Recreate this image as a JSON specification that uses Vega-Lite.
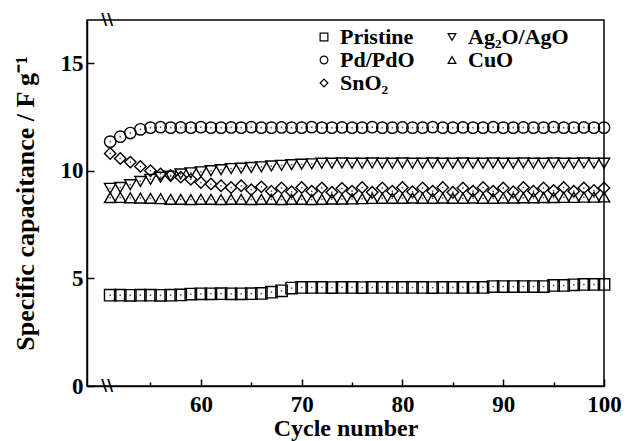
{
  "$schema": "https://vega.github.io/schema/vega-lite/v6.json",
  "width": 517,
  "height": 366,
  "autosize": {"type": "none"},
  "padding": {"left": 87, "top": 20, "right": 22, "bottom": 55},
  "background": "white",
  "config": {
    "font": "Liberation Serif",
    "view": {"stroke": "black", "strokeWidth": 1.5},
    "axis": {
      "grid": false,
      "domainColor": "black",
      "domainWidth": 1.5,
      "tickColor": "black",
      "tickWidth": 1.5,
      "labelColor": "black",
      "labelFont": "Liberation Serif",
      "labelFontSize": 23,
      "labelFontWeight": "bold",
      "titleColor": "black",
      "titleFont": "Liberation Serif",
      "titleFontSize": 24,
      "titleFontWeight": "bold"
    }
  },
  "datasets": {
    "cap": [
      {"cycle": 51, "sample": "Pristine", "capacitance": 4.22},
      {"cycle": 52, "sample": "Pristine", "capacitance": 4.22},
      {"cycle": 53, "sample": "Pristine", "capacitance": 4.21},
      {"cycle": 54, "sample": "Pristine", "capacitance": 4.22},
      {"cycle": 55, "sample": "Pristine", "capacitance": 4.22},
      {"cycle": 56, "sample": "Pristine", "capacitance": 4.21},
      {"cycle": 57, "sample": "Pristine", "capacitance": 4.22},
      {"cycle": 58, "sample": "Pristine", "capacitance": 4.23},
      {"cycle": 59, "sample": "Pristine", "capacitance": 4.27},
      {"cycle": 60, "sample": "Pristine", "capacitance": 4.28},
      {"cycle": 61, "sample": "Pristine", "capacitance": 4.28},
      {"cycle": 62, "sample": "Pristine", "capacitance": 4.29},
      {"cycle": 63, "sample": "Pristine", "capacitance": 4.28},
      {"cycle": 64, "sample": "Pristine", "capacitance": 4.28},
      {"cycle": 65, "sample": "Pristine", "capacitance": 4.29},
      {"cycle": 66, "sample": "Pristine", "capacitance": 4.3},
      {"cycle": 67, "sample": "Pristine", "capacitance": 4.36},
      {"cycle": 68, "sample": "Pristine", "capacitance": 4.42},
      {"cycle": 69, "sample": "Pristine", "capacitance": 4.55},
      {"cycle": 70, "sample": "Pristine", "capacitance": 4.58},
      {"cycle": 71, "sample": "Pristine", "capacitance": 4.58},
      {"cycle": 72, "sample": "Pristine", "capacitance": 4.58},
      {"cycle": 73, "sample": "Pristine", "capacitance": 4.57},
      {"cycle": 74, "sample": "Pristine", "capacitance": 4.58},
      {"cycle": 75, "sample": "Pristine", "capacitance": 4.58},
      {"cycle": 76, "sample": "Pristine", "capacitance": 4.57},
      {"cycle": 77, "sample": "Pristine", "capacitance": 4.58},
      {"cycle": 78, "sample": "Pristine", "capacitance": 4.58},
      {"cycle": 79, "sample": "Pristine", "capacitance": 4.58},
      {"cycle": 80, "sample": "Pristine", "capacitance": 4.58},
      {"cycle": 81, "sample": "Pristine", "capacitance": 4.58},
      {"cycle": 82, "sample": "Pristine", "capacitance": 4.58},
      {"cycle": 83, "sample": "Pristine", "capacitance": 4.57},
      {"cycle": 84, "sample": "Pristine", "capacitance": 4.58},
      {"cycle": 85, "sample": "Pristine", "capacitance": 4.58},
      {"cycle": 86, "sample": "Pristine", "capacitance": 4.58},
      {"cycle": 87, "sample": "Pristine", "capacitance": 4.58},
      {"cycle": 88, "sample": "Pristine", "capacitance": 4.58},
      {"cycle": 89, "sample": "Pristine", "capacitance": 4.62},
      {"cycle": 90, "sample": "Pristine", "capacitance": 4.62},
      {"cycle": 91, "sample": "Pristine", "capacitance": 4.62},
      {"cycle": 92, "sample": "Pristine", "capacitance": 4.62},
      {"cycle": 93, "sample": "Pristine", "capacitance": 4.62},
      {"cycle": 94, "sample": "Pristine", "capacitance": 4.62},
      {"cycle": 95, "sample": "Pristine", "capacitance": 4.67},
      {"cycle": 96, "sample": "Pristine", "capacitance": 4.67},
      {"cycle": 97, "sample": "Pristine", "capacitance": 4.7},
      {"cycle": 98, "sample": "Pristine", "capacitance": 4.72},
      {"cycle": 99, "sample": "Pristine", "capacitance": 4.72},
      {"cycle": 100, "sample": "Pristine", "capacitance": 4.72},
      {"cycle": 51, "sample": "Pd/PdO", "capacitance": 11.35},
      {"cycle": 52, "sample": "Pd/PdO", "capacitance": 11.58},
      {"cycle": 53, "sample": "Pd/PdO", "capacitance": 11.75},
      {"cycle": 54, "sample": "Pd/PdO", "capacitance": 11.92},
      {"cycle": 55, "sample": "Pd/PdO", "capacitance": 12.0},
      {"cycle": 56, "sample": "Pd/PdO", "capacitance": 12.02},
      {"cycle": 57, "sample": "Pd/PdO", "capacitance": 12.0},
      {"cycle": 58, "sample": "Pd/PdO", "capacitance": 12.01},
      {"cycle": 59, "sample": "Pd/PdO", "capacitance": 12.0},
      {"cycle": 60, "sample": "Pd/PdO", "capacitance": 12.02},
      {"cycle": 61, "sample": "Pd/PdO", "capacitance": 12.0},
      {"cycle": 62, "sample": "Pd/PdO", "capacitance": 12.0},
      {"cycle": 63, "sample": "Pd/PdO", "capacitance": 12.01},
      {"cycle": 64, "sample": "Pd/PdO", "capacitance": 12.0},
      {"cycle": 65, "sample": "Pd/PdO", "capacitance": 12.02},
      {"cycle": 66, "sample": "Pd/PdO", "capacitance": 12.0},
      {"cycle": 67, "sample": "Pd/PdO", "capacitance": 12.0},
      {"cycle": 68, "sample": "Pd/PdO", "capacitance": 12.01},
      {"cycle": 69, "sample": "Pd/PdO", "capacitance": 12.0},
      {"cycle": 70, "sample": "Pd/PdO", "capacitance": 12.0},
      {"cycle": 71, "sample": "Pd/PdO", "capacitance": 12.02},
      {"cycle": 72, "sample": "Pd/PdO", "capacitance": 12.0},
      {"cycle": 73, "sample": "Pd/PdO", "capacitance": 12.0},
      {"cycle": 74, "sample": "Pd/PdO", "capacitance": 12.01},
      {"cycle": 75, "sample": "Pd/PdO", "capacitance": 12.0},
      {"cycle": 76, "sample": "Pd/PdO", "capacitance": 12.0},
      {"cycle": 77, "sample": "Pd/PdO", "capacitance": 12.02},
      {"cycle": 78, "sample": "Pd/PdO", "capacitance": 12.0},
      {"cycle": 79, "sample": "Pd/PdO", "capacitance": 12.0},
      {"cycle": 80, "sample": "Pd/PdO", "capacitance": 12.01},
      {"cycle": 81, "sample": "Pd/PdO", "capacitance": 12.0},
      {"cycle": 82, "sample": "Pd/PdO", "capacitance": 12.0},
      {"cycle": 83, "sample": "Pd/PdO", "capacitance": 12.02},
      {"cycle": 84, "sample": "Pd/PdO", "capacitance": 12.0},
      {"cycle": 85, "sample": "Pd/PdO", "capacitance": 12.0},
      {"cycle": 86, "sample": "Pd/PdO", "capacitance": 12.01},
      {"cycle": 87, "sample": "Pd/PdO", "capacitance": 12.0},
      {"cycle": 88, "sample": "Pd/PdO", "capacitance": 12.0},
      {"cycle": 89, "sample": "Pd/PdO", "capacitance": 12.02},
      {"cycle": 90, "sample": "Pd/PdO", "capacitance": 12.0},
      {"cycle": 91, "sample": "Pd/PdO", "capacitance": 12.0},
      {"cycle": 92, "sample": "Pd/PdO", "capacitance": 12.01},
      {"cycle": 93, "sample": "Pd/PdO", "capacitance": 12.0},
      {"cycle": 94, "sample": "Pd/PdO", "capacitance": 12.0},
      {"cycle": 95, "sample": "Pd/PdO", "capacitance": 12.02},
      {"cycle": 96, "sample": "Pd/PdO", "capacitance": 12.0},
      {"cycle": 97, "sample": "Pd/PdO", "capacitance": 12.0},
      {"cycle": 98, "sample": "Pd/PdO", "capacitance": 12.01},
      {"cycle": 99, "sample": "Pd/PdO", "capacitance": 12.0},
      {"cycle": 100, "sample": "Pd/PdO", "capacitance": 12.0},
      {"cycle": 51, "sample": "SnO₂", "capacitance": 10.8},
      {"cycle": 52, "sample": "SnO₂", "capacitance": 10.57},
      {"cycle": 53, "sample": "SnO₂", "capacitance": 10.4},
      {"cycle": 54, "sample": "SnO₂", "capacitance": 10.2},
      {"cycle": 55, "sample": "SnO₂", "capacitance": 10.0},
      {"cycle": 56, "sample": "SnO₂", "capacitance": 9.85},
      {"cycle": 57, "sample": "SnO₂", "capacitance": 9.78},
      {"cycle": 58, "sample": "SnO₂", "capacitance": 9.7},
      {"cycle": 59, "sample": "SnO₂", "capacitance": 9.6},
      {"cycle": 60, "sample": "SnO₂", "capacitance": 9.45},
      {"cycle": 61, "sample": "SnO₂", "capacitance": 9.38},
      {"cycle": 62, "sample": "SnO₂", "capacitance": 9.3},
      {"cycle": 63, "sample": "SnO₂", "capacitance": 9.22},
      {"cycle": 64, "sample": "SnO₂", "capacitance": 9.3},
      {"cycle": 65, "sample": "SnO₂", "capacitance": 9.12},
      {"cycle": 66, "sample": "SnO₂", "capacitance": 9.25},
      {"cycle": 67, "sample": "SnO₂", "capacitance": 9.05},
      {"cycle": 68, "sample": "SnO₂", "capacitance": 9.2},
      {"cycle": 69, "sample": "SnO₂", "capacitance": 9.02},
      {"cycle": 70, "sample": "SnO₂", "capacitance": 9.22},
      {"cycle": 71, "sample": "SnO₂", "capacitance": 9.05},
      {"cycle": 72, "sample": "SnO₂", "capacitance": 9.2},
      {"cycle": 73, "sample": "SnO₂", "capacitance": 9.0},
      {"cycle": 74, "sample": "SnO₂", "capacitance": 9.18},
      {"cycle": 75, "sample": "SnO₂", "capacitance": 9.05},
      {"cycle": 76, "sample": "SnO₂", "capacitance": 9.22},
      {"cycle": 77, "sample": "SnO₂", "capacitance": 9.0},
      {"cycle": 78, "sample": "SnO₂", "capacitance": 9.2},
      {"cycle": 79, "sample": "SnO₂", "capacitance": 9.05},
      {"cycle": 80, "sample": "SnO₂", "capacitance": 9.22},
      {"cycle": 81, "sample": "SnO₂", "capacitance": 9.02},
      {"cycle": 82, "sample": "SnO₂", "capacitance": 9.2},
      {"cycle": 83, "sample": "SnO₂", "capacitance": 9.05},
      {"cycle": 84, "sample": "SnO₂", "capacitance": 9.22},
      {"cycle": 85, "sample": "SnO₂", "capacitance": 9.0},
      {"cycle": 86, "sample": "SnO₂", "capacitance": 9.2},
      {"cycle": 87, "sample": "SnO₂", "capacitance": 9.05},
      {"cycle": 88, "sample": "SnO₂", "capacitance": 9.22},
      {"cycle": 89, "sample": "SnO₂", "capacitance": 9.05},
      {"cycle": 90, "sample": "SnO₂", "capacitance": 9.2},
      {"cycle": 91, "sample": "SnO₂", "capacitance": 9.02},
      {"cycle": 92, "sample": "SnO₂", "capacitance": 9.22},
      {"cycle": 93, "sample": "SnO₂", "capacitance": 9.05},
      {"cycle": 94, "sample": "SnO₂", "capacitance": 9.2},
      {"cycle": 95, "sample": "SnO₂", "capacitance": 9.08},
      {"cycle": 96, "sample": "SnO₂", "capacitance": 9.22},
      {"cycle": 97, "sample": "SnO₂", "capacitance": 9.05},
      {"cycle": 98, "sample": "SnO₂", "capacitance": 9.2},
      {"cycle": 99, "sample": "SnO₂", "capacitance": 9.08},
      {"cycle": 100, "sample": "SnO₂", "capacitance": 9.2},
      {"cycle": 51, "sample": "Ag₂O/AgO", "capacitance": 9.18},
      {"cycle": 52, "sample": "Ag₂O/AgO", "capacitance": 9.22},
      {"cycle": 53, "sample": "Ag₂O/AgO", "capacitance": 9.35},
      {"cycle": 54, "sample": "Ag₂O/AgO", "capacitance": 9.5},
      {"cycle": 55, "sample": "Ag₂O/AgO", "capacitance": 9.6},
      {"cycle": 56, "sample": "Ag₂O/AgO", "capacitance": 9.7},
      {"cycle": 57, "sample": "Ag₂O/AgO", "capacitance": 9.75},
      {"cycle": 58, "sample": "Ag₂O/AgO", "capacitance": 9.85},
      {"cycle": 59, "sample": "Ag₂O/AgO", "capacitance": 9.9},
      {"cycle": 60, "sample": "Ag₂O/AgO", "capacitance": 9.95},
      {"cycle": 61, "sample": "Ag₂O/AgO", "capacitance": 10.0},
      {"cycle": 62, "sample": "Ag₂O/AgO", "capacitance": 10.05},
      {"cycle": 63, "sample": "Ag₂O/AgO", "capacitance": 10.1},
      {"cycle": 64, "sample": "Ag₂O/AgO", "capacitance": 10.12},
      {"cycle": 65, "sample": "Ag₂O/AgO", "capacitance": 10.15},
      {"cycle": 66, "sample": "Ag₂O/AgO", "capacitance": 10.18},
      {"cycle": 67, "sample": "Ag₂O/AgO", "capacitance": 10.22},
      {"cycle": 68, "sample": "Ag₂O/AgO", "capacitance": 10.25},
      {"cycle": 69, "sample": "Ag₂O/AgO", "capacitance": 10.28},
      {"cycle": 70, "sample": "Ag₂O/AgO", "capacitance": 10.3},
      {"cycle": 71, "sample": "Ag₂O/AgO", "capacitance": 10.32},
      {"cycle": 72, "sample": "Ag₂O/AgO", "capacitance": 10.35},
      {"cycle": 73, "sample": "Ag₂O/AgO", "capacitance": 10.35},
      {"cycle": 74, "sample": "Ag₂O/AgO", "capacitance": 10.36},
      {"cycle": 75, "sample": "Ag₂O/AgO", "capacitance": 10.35},
      {"cycle": 76, "sample": "Ag₂O/AgO", "capacitance": 10.35},
      {"cycle": 77, "sample": "Ag₂O/AgO", "capacitance": 10.36},
      {"cycle": 78, "sample": "Ag₂O/AgO", "capacitance": 10.35},
      {"cycle": 79, "sample": "Ag₂O/AgO", "capacitance": 10.35},
      {"cycle": 80, "sample": "Ag₂O/AgO", "capacitance": 10.36},
      {"cycle": 81, "sample": "Ag₂O/AgO", "capacitance": 10.35},
      {"cycle": 82, "sample": "Ag₂O/AgO", "capacitance": 10.35},
      {"cycle": 83, "sample": "Ag₂O/AgO", "capacitance": 10.36},
      {"cycle": 84, "sample": "Ag₂O/AgO", "capacitance": 10.35},
      {"cycle": 85, "sample": "Ag₂O/AgO", "capacitance": 10.35},
      {"cycle": 86, "sample": "Ag₂O/AgO", "capacitance": 10.36},
      {"cycle": 87, "sample": "Ag₂O/AgO", "capacitance": 10.35},
      {"cycle": 88, "sample": "Ag₂O/AgO", "capacitance": 10.35},
      {"cycle": 89, "sample": "Ag₂O/AgO", "capacitance": 10.36},
      {"cycle": 90, "sample": "Ag₂O/AgO", "capacitance": 10.35},
      {"cycle": 91, "sample": "Ag₂O/AgO", "capacitance": 10.35},
      {"cycle": 92, "sample": "Ag₂O/AgO", "capacitance": 10.36},
      {"cycle": 93, "sample": "Ag₂O/AgO", "capacitance": 10.35},
      {"cycle": 94, "sample": "Ag₂O/AgO", "capacitance": 10.35},
      {"cycle": 95, "sample": "Ag₂O/AgO", "capacitance": 10.36},
      {"cycle": 96, "sample": "Ag₂O/AgO", "capacitance": 10.35},
      {"cycle": 97, "sample": "Ag₂O/AgO", "capacitance": 10.35},
      {"cycle": 98, "sample": "Ag₂O/AgO", "capacitance": 10.36},
      {"cycle": 99, "sample": "Ag₂O/AgO", "capacitance": 10.35},
      {"cycle": 100, "sample": "Ag₂O/AgO", "capacitance": 10.35},
      {"cycle": 51, "sample": "CuO", "capacitance": 8.75},
      {"cycle": 52, "sample": "CuO", "capacitance": 8.76},
      {"cycle": 53, "sample": "CuO", "capacitance": 8.74},
      {"cycle": 54, "sample": "CuO", "capacitance": 8.73},
      {"cycle": 55, "sample": "CuO", "capacitance": 8.72},
      {"cycle": 56, "sample": "CuO", "capacitance": 8.7},
      {"cycle": 57, "sample": "CuO", "capacitance": 8.67},
      {"cycle": 58, "sample": "CuO", "capacitance": 8.67},
      {"cycle": 59, "sample": "CuO", "capacitance": 8.66},
      {"cycle": 60, "sample": "CuO", "capacitance": 8.67},
      {"cycle": 61, "sample": "CuO", "capacitance": 8.67},
      {"cycle": 62, "sample": "CuO", "capacitance": 8.66},
      {"cycle": 63, "sample": "CuO", "capacitance": 8.67},
      {"cycle": 64, "sample": "CuO", "capacitance": 8.67},
      {"cycle": 65, "sample": "CuO", "capacitance": 8.66},
      {"cycle": 66, "sample": "CuO", "capacitance": 8.67},
      {"cycle": 67, "sample": "CuO", "capacitance": 8.67},
      {"cycle": 68, "sample": "CuO", "capacitance": 8.66},
      {"cycle": 69, "sample": "CuO", "capacitance": 8.67},
      {"cycle": 70, "sample": "CuO", "capacitance": 8.67},
      {"cycle": 71, "sample": "CuO", "capacitance": 8.66},
      {"cycle": 72, "sample": "CuO", "capacitance": 8.67},
      {"cycle": 73, "sample": "CuO", "capacitance": 8.68},
      {"cycle": 74, "sample": "CuO", "capacitance": 8.68},
      {"cycle": 75, "sample": "CuO", "capacitance": 8.69},
      {"cycle": 76, "sample": "CuO", "capacitance": 8.7},
      {"cycle": 77, "sample": "CuO", "capacitance": 8.71},
      {"cycle": 78, "sample": "CuO", "capacitance": 8.72},
      {"cycle": 79, "sample": "CuO", "capacitance": 8.72},
      {"cycle": 80, "sample": "CuO", "capacitance": 8.72},
      {"cycle": 81, "sample": "CuO", "capacitance": 8.73},
      {"cycle": 82, "sample": "CuO", "capacitance": 8.72},
      {"cycle": 83, "sample": "CuO", "capacitance": 8.72},
      {"cycle": 84, "sample": "CuO", "capacitance": 8.73},
      {"cycle": 85, "sample": "CuO", "capacitance": 8.72},
      {"cycle": 86, "sample": "CuO", "capacitance": 8.72},
      {"cycle": 87, "sample": "CuO", "capacitance": 8.73},
      {"cycle": 88, "sample": "CuO", "capacitance": 8.72},
      {"cycle": 89, "sample": "CuO", "capacitance": 8.72},
      {"cycle": 90, "sample": "CuO", "capacitance": 8.73},
      {"cycle": 91, "sample": "CuO", "capacitance": 8.73},
      {"cycle": 92, "sample": "CuO", "capacitance": 8.74},
      {"cycle": 93, "sample": "CuO", "capacitance": 8.74},
      {"cycle": 94, "sample": "CuO", "capacitance": 8.75},
      {"cycle": 95, "sample": "CuO", "capacitance": 8.75},
      {"cycle": 96, "sample": "CuO", "capacitance": 8.76},
      {"cycle": 97, "sample": "CuO", "capacitance": 8.76},
      {"cycle": 98, "sample": "CuO", "capacitance": 8.77},
      {"cycle": 99, "sample": "CuO", "capacitance": 8.77},
      {"cycle": 100, "sample": "CuO", "capacitance": 8.78}
    ],
    "breaks": [
      {"cycle": 50.7, "capacitance": 0, "mark": "\\\\"},
      {"cycle": 50.7, "capacitance": 17, "mark": "\\\\"}
    ]
  },
  "layer": [
    {
      "data": {"name": "cap"},
      "mark": {"type": "point", "filled": false, "size": 130, "strokeWidth": 1.4, "color": "black", "opacity": 1},
      "encoding": {
        "x": {
          "field": "cycle", "type": "quantitative",
          "scale": {"domain": [48.7, 100], "nice": false, "zero": false},
          "axis": {
            "values": [55, 60, 65, 70, 75, 80, 85, 90, 95, 100],
            "labelExpr": "datum.value % 10 === 0 ? datum.label : ''",
            "tickSize": {"condition": {"test": "datum.value % 10 === 0", "value": -7}, "value": -4},
            "labelPadding": 14,
            "labelFlush": false,
            "title": "Cycle number",
            "titlePadding": 0
          }
        },
        "y": {
          "field": "capacitance", "type": "quantitative",
          "scale": {"domain": [0, 17], "nice": false},
          "axis": {
            "values": [0, 5, 10, 15],
            "tickSize": -7,
            "labelPadding": 11,
            "labelFlush": false,
            "title": "Specific capacitance / F g⁻¹",
            "titleFontSize": 26,
            "titlePadding": 22
          }
        },
        "shape": {
          "field": "sample", "type": "nominal",
          "scale": {
            "domain": ["Pristine", "Pd/PdO", "SnO₂", "Ag₂O/AgO", "CuO"],
            "range": ["square", "circle", "diamond", "triangle-down", "triangle-up"]
          },
          "legend": {
            "orient": "none",
            "legendX": 226,
            "legendY": 6,
            "columns": 2,
            "columnPadding": 26,
            "rowPadding": 1,
            "title": null,
            "symbolSize": 60,
            "symbolStrokeColor": "black",
            "symbolStrokeWidth": 1.2,
            "symbolFillColor": "transparent",
            "labelFont": "Liberation Serif",
            "labelFontSize": 22,
            "labelFontWeight": "bold",
            "labelColor": "black",
            "labelOffset": 5,
            "labelLimit": 200
          }
        }
      }
    },
    {
      "data": {"name": "cap"},
      "mark": {"type": "point", "filled": true, "size": 3, "color": "#555", "opacity": 1},
      "encoding": {
        "x": {"field": "cycle", "type": "quantitative"},
        "y": {"field": "capacitance", "type": "quantitative"}
      }
    },
    {
      "data": {"name": "breaks"},
      "mark": {"type": "text", "font": "DejaVu Sans", "fontSize": 16, "fontWeight": "bold", "color": "black", "baseline": "middle", "align": "center"},
      "encoding": {
        "x": {"field": "cycle", "type": "quantitative"},
        "y": {"field": "capacitance", "type": "quantitative"},
        "text": {"field": "mark"}
      }
    }
  ]
}
